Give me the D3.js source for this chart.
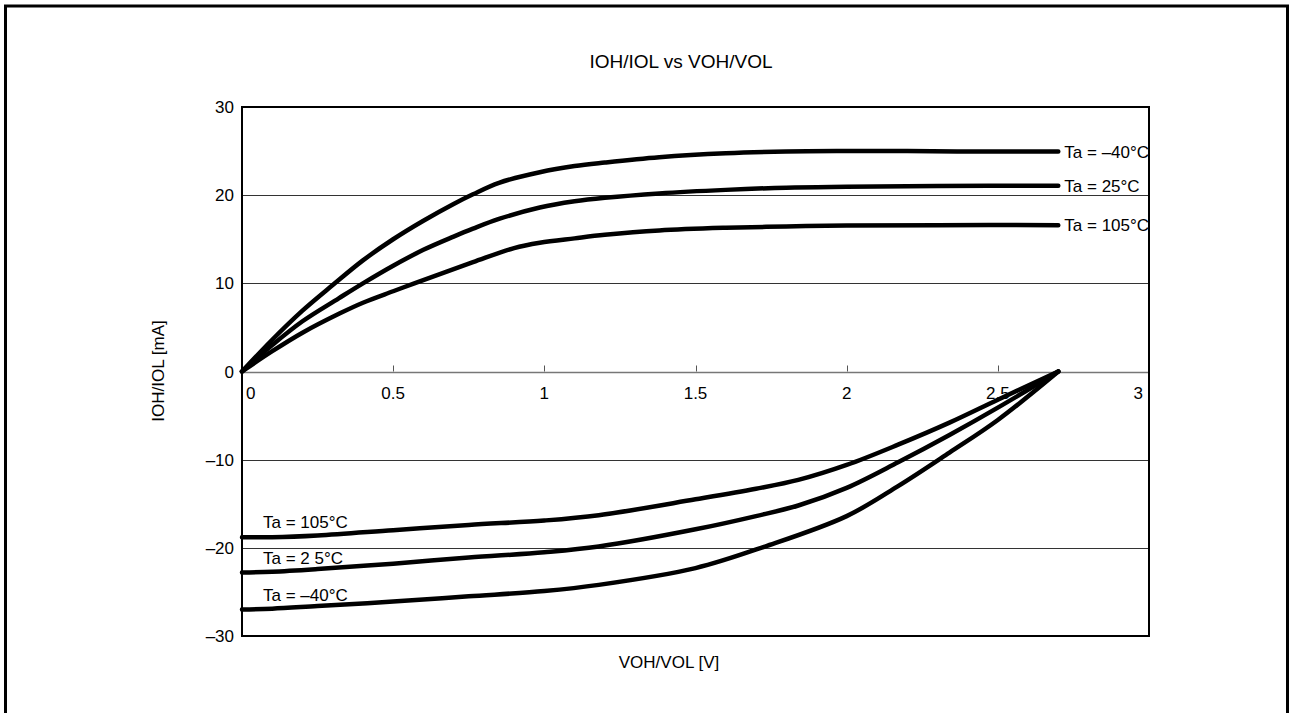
<!DOCTYPE html>
<html>
<head>
<meta charset="utf-8">
<script src="https://cdn.jsdelivr.net/npm/d3@7"></script>
<style>
  html, body { margin: 0; padding: 0; background: #fff; }
  svg { display: block; }
  text { font-family: "Liberation Sans", Arial, sans-serif; fill: #000; }
</style>
</head>
<body>
<svg id="chart" width="1290" height="713"></svg>
<script>
// ---- data ----
const chartTitle = "IOH/IOL vs VOH/VOL";
const xAxisTitle = "VOH/VOL [V]";
const yAxisTitle = "IOH/IOL [mA]";

const xTickValues = [0, 0.5, 1, 1.5, 2, 2.5, 3];
const xTickLabels = ["0", "0.5", "1", "1.5", "2", "2.5", "3"];
const yTickValues = [30, 20, 10, 0, -10, -20, -30];
const yTickLabels = ["30", "20", "10", "0", "\u201310", "\u201320", "\u201330"];

// IOH (upper) curves: [V, mA]
const ioh_m40 = [[0,0],[0.1,3.6],[0.2,6.9],[0.3,9.8],[0.4,12.6],[0.5,15.0],[0.6,17.1],[0.7,19.0],[0.764,20.1],[0.85,21.4],[0.985,22.6],[1.1,23.3],[1.2,23.7],[1.38,24.3],[1.6,24.75],[1.8,24.95],[2.0,25.0],[2.2,25.0],[2.45,24.95],[2.7,24.95]];
const ioh_25  = [[0,0],[0.1,3.0],[0.2,5.7],[0.32,8.3],[0.4,10.0],[0.5,12.0],[0.6,13.8],[0.7,15.3],[0.764,16.2],[0.85,17.3],[0.985,18.6],[1.1,19.3],[1.2,19.7],[1.38,20.2],[1.6,20.6],[1.8,20.85],[2.0,20.95],[2.3,21.05],[2.7,21.06]];
const ioh_105 = [[0,0],[0.1,2.3],[0.2,4.4],[0.324,6.6],[0.4,7.8],[0.5,9.1],[0.57,10.0],[0.764,12.4],[0.9,14.0],[0.985,14.6],[1.1,15.1],[1.2,15.5],[1.38,16.0],[1.6,16.3],[1.8,16.45],[2.0,16.55],[2.3,16.6],[2.7,16.6]];

// IOL (lower) curves: [V, mA]
const iol_105 = [[0,-18.8],[0.1,-18.8],[0.25,-18.6],[0.5,-18.0],[0.75,-17.4],[1.0,-16.9],[1.18,-16.3],[1.5,-14.5],[1.7,-13.3],[1.84,-12.3],[2.0,-10.6],[2.17,-8.3],[2.34,-5.8],[2.5,-3.2],[2.7,0]];
const iol_25  = [[0,-22.8],[0.1,-22.7],[0.25,-22.4],[0.5,-21.8],[0.75,-21.1],[1.0,-20.5],[1.18,-19.85],[1.5,-17.9],[1.7,-16.4],[1.84,-15.2],[2.0,-13.2],[2.17,-10.3],[2.34,-7.2],[2.5,-4.1],[2.7,0]];
const iol_m40 = [[0,-27.0],[0.1,-26.9],[0.25,-26.6],[0.5,-26.1],[0.75,-25.5],[1.0,-24.9],[1.18,-24.2],[1.5,-22.3],[1.73,-19.85],[2.0,-16.4],[2.17,-13.0],[2.34,-9.2],[2.5,-5.5],[2.7,0]];

const upperLabels = ["Ta = \u201340\u00b0C", "Ta = 25\u00b0C", "Ta = 105\u00b0C"];
const lowerLabels = ["Ta = 105\u00b0C", "Ta = 2 5\u00b0C", "Ta = \u201340\u00b0C"];

// ---- layout ----
const svg = d3.select("#chart");
const plot = { left: 242, top: 107, right: 1149, bottom: 636 };
const x = d3.scaleLinear().domain([0, 3]).range([plot.left, plot.right]);
const y = d3.scaleLinear().domain([-30, 30]).range([plot.bottom, plot.top]);
const fs = 17;

// outer frame (open at bottom)
svg.append("path")
  .attr("d", `M5.5,713 L5.5,6 L1287.5,6 L1287.5,713`)
  .attr("fill", "none").attr("stroke", "#000").attr("stroke-width", 3);

// grid lines
svg.append("g").selectAll("line")
  .data(yTickValues.filter(v => v !== 0 && v !== 30 && v !== -30))
  .join("line")
  .attr("x1", plot.left).attr("x2", plot.right)
  .attr("y1", d => Math.round(y(d)) + 0.5).attr("y2", d => Math.round(y(d)) + 0.5)
  .attr("stroke", "#333").attr("stroke-width", 1);

// zero line
svg.append("line")
  .attr("x1", plot.left).attr("x2", plot.right)
  .attr("y1", Math.round(y(0)) + 0.5).attr("y2", Math.round(y(0)) + 0.5)
  .attr("stroke", "#777").attr("stroke-width", 1.5);

// x ticks (upward from zero line)
svg.append("g").selectAll("line")
  .data(xTickValues.filter(v => v > 0 && v < 3))
  .join("line")
  .attr("x1", d => Math.round(x(d)) + 0.5).attr("x2", d => Math.round(x(d)) + 0.5)
  .attr("y1", y(0)).attr("y2", y(0) - 6)
  .attr("stroke", "#555").attr("stroke-width", 1);

// plot border
svg.append("rect")
  .attr("x", plot.left).attr("y", plot.top)
  .attr("width", plot.right - plot.left).attr("height", plot.bottom - plot.top)
  .attr("fill", "none").attr("stroke", "#000").attr("stroke-width", 2);

// y tick labels
svg.append("g").selectAll("text")
  .data(yTickValues)
  .join("text")
  .attr("x", plot.left - 8)
  .attr("y", d => y(d) + 6)
  .attr("text-anchor", "end")
  .attr("font-size", fs)
  .text((d, i) => yTickLabels[i]);

// x tick labels
svg.append("g").selectAll("text")
  .data(xTickValues)
  .join("text")
  .attr("x", (d, i) => i === 0 ? x(d) + 4 : (i === xTickValues.length - 1 ? x(d) - 6 : x(d)))
  .attr("y", y(0) + 27)
  .attr("text-anchor", (d, i) => i === 0 ? "start" : (i === xTickValues.length - 1 ? "end" : "middle"))
  .attr("font-size", fs)
  .text((d, i) => xTickLabels[i]);

// titles
svg.append("text").attr("x", 681).attr("y", 68).attr("text-anchor", "middle")
  .attr("font-size", 19).text(chartTitle);
svg.append("text").attr("x", 669).attr("y", 668).attr("text-anchor", "middle")
  .attr("font-size", fs).text(xAxisTitle);
svg.append("text").attr("transform", "translate(164,371) rotate(-90)")
  .attr("text-anchor", "middle").attr("font-size", fs).text(yAxisTitle);

// curves
const line = d3.line().x(d => x(d[0])).y(d => y(d[1])).curve(d3.curveCatmullRom.alpha(0.5));
const curves = [ioh_m40, ioh_25, ioh_105, iol_105, iol_25, iol_m40];
svg.append("g").selectAll("path")
  .data(curves)
  .join("path")
  .attr("d", line)
  .attr("fill", "none").attr("stroke", "#000").attr("stroke-width", 4.5)
  .attr("stroke-linecap", "round").attr("stroke-linejoin", "round");

// right labels at ends of IOH curves
const upperSeries = [ioh_m40, ioh_25, ioh_105];
svg.append("g").selectAll("text")
  .data(upperSeries)
  .join("text")
  .attr("x", d => x(d[d.length - 1][0]) + 6)
  .attr("y", d => y(d[d.length - 1][1]) + 6)
  .attr("font-size", fs)
  .text((d, i) => upperLabels[i]);

// lower-left labels above start of IOL curves
const lowerSeries = [iol_105, iol_25, iol_m40];
svg.append("g").selectAll("text")
  .data(lowerSeries)
  .join("text")
  .attr("x", x(0) + 21)
  .attr("y", d => y(d[0][1]) - 9)
  .attr("font-size", fs)
  .text((d, i) => lowerLabels[i]);
</script>
</body>
</html>
